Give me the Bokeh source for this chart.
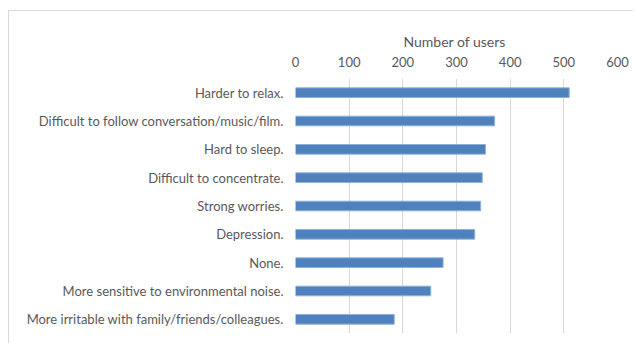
from bokeh.plotting import figure
from bokeh.models import Range1d, FactorRange
from bokeh.embed import file_html
from bokeh.resources import INLINE

categories = [
    "Harder to relax.",
    "Difficult to follow conversation/music/film.",
    "Hard to sleep.",
    "Difficult to concentrate.",
    "Strong worries.",
    "Depression.",
    "None.",
    "More sensitive to environmental noise.",
    "More irritable with family/friends/colleagues.",
]
users = [510, 371, 354, 348, 345, 334, 275, 252, 184]
x_ticks = [0, 100, 200, 300, 400, 500, 600]

FONT = "Lato"
TXT = "#595959"

p = figure(
    width=625, height=333,
    y_range=FactorRange(factors=list(reversed(categories))),
    x_range=Range1d(0, 600),
    x_axis_location="above",
    output_backend="svg", toolbar_location=None,
    min_border_left=286, min_border_top=67, min_border_bottom=11, min_border_right=17,
)
p.styles = {"margin-left": "8px", "margin-top": "10px",
            "border-left": "1px solid #d9d9d9", "border-top": "1px solid #d9d9d9"}
p.outline_line_color = None

p.hbar(y=categories, right=users, left=0, height=0.34,
       fill_color="#4F81BD", line_color="#8fb0dc", line_width=1)

xa = p.xaxis[0]
xa.ticker = x_ticks
xa.axis_label = "Number  of users"
xa.axis_label_text_font = FONT
xa.axis_label_text_font_style = "normal"
xa.axis_label_text_font_size = "14px"
xa.axis_label_text_color = TXT
xa.axis_label_standoff = 4
xa.major_label_text_font = FONT
xa.major_label_text_font_size = "13px"
xa.major_label_text_color = TXT
xa.axis_line_color = None
xa.major_tick_line_color = None
xa.minor_tick_line_color = None
xa.major_label_standoff = 6

ya = p.yaxis[0]
ya.major_label_text_font = FONT
ya.major_label_text_font_size = "13px"
ya.major_label_text_color = TXT
ya.axis_line_color = None
ya.major_tick_line_color = None
ya.minor_tick_line_color = None
ya.major_label_standoff = 6

p.xgrid.grid_line_color = "#d9d9d9"
p.xgrid.grid_line_width = 1
p.ygrid.grid_line_color = None

open("out.html", "w").write(file_html(p, INLINE))
